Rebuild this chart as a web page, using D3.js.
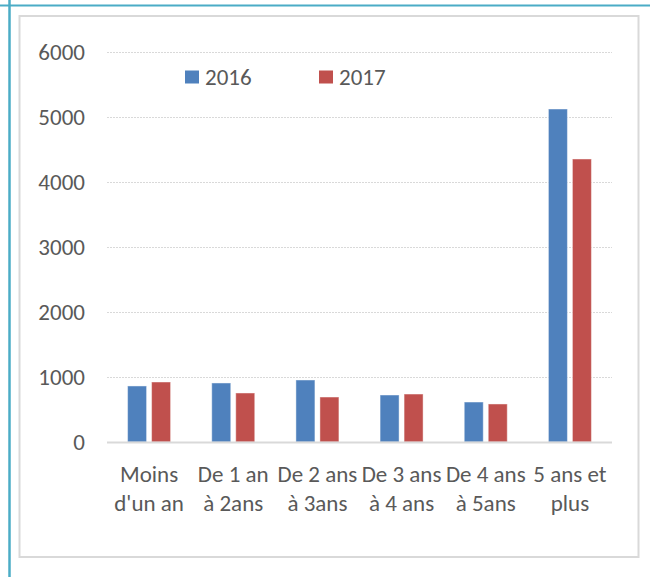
<!DOCTYPE html>
<html>
<head>
<meta charset="utf-8">
<script src="https://cdn.jsdelivr.net/npm/d3@7"></script>
<style>
  html, body { margin: 0; padding: 0; background: #ffffff; }
  svg { display: block; }
  text { font-family: Carlito, Lato, "Liberation Sans", sans-serif; fill: #595959; }
</style>
</head>
<body>
<svg id="chart" width="650" height="577"></svg>
<script>
// Categories (with the line breaks used under the axis)
const categories = [
  "Moins d'un an",
  "De 1 an à 2ans",
  "De 2 ans à 3ans",
  "De 3 ans à 4 ans",
  "De 4 ans à 5ans",
  "5 ans et plus"
];
const categoryLines = [
  ["Moins", "d'un an"],
  ["De 1 an", "à 2ans"],
  ["De 2 ans", "à 3ans"],
  ["De 3 ans", "à 4 ans"],
  ["De 4 ans", "à 5ans"],
  ["5 ans et", "plus"]
];
const seriesNames = ["2016", "2017"];
const values2016 = [862, 908, 954, 723, 615, 5123];
const values2017 = [923, 754, 692, 738, 585, 4354];
const yTicks = [0, 1000, 2000, 3000, 4000, 5000, 6000];
const colors = ["#4f81bd", "#c0504d"];

const FONT_SIZE = 23;
const svg = d3.select("#chart");

// Decorative page rules
svg.append("line").attr("x1", 0).attr("x2", 650).attr("y1", 5.5).attr("y2", 5.5)
  .attr("stroke", "#4bacc6").attr("stroke-width", 2);
svg.append("line").attr("x1", 9.5).attr("x2", 9.5).attr("y1", 0).attr("y2", 577)
  .attr("stroke", "#4bacc6").attr("stroke-width", 2.5);

// Chart frame
svg.append("rect").attr("x", 19.5).attr("y", 16).attr("width", 619).attr("height", 541)
  .attr("fill", "#ffffff").attr("stroke", "#d9d9d9").attr("stroke-width", 2);

const plot = { left: 107, right: 612, top: 52, bottom: 442 };

const y = d3.scaleLinear().domain([0, 6000]).range([plot.bottom, plot.top]);
const x0 = d3.scaleBand().domain(categories).range([plot.left, plot.right])
  .paddingInner(0.489).paddingOuter(0.2445);
const x1 = d3.scaleBand().domain(seriesNames).range([0, x0.bandwidth()])
  .paddingInner(0.208).paddingOuter(0);

// Gridlines
svg.append("g").selectAll("line").data(yTicks.filter(d => d > 0)).join("line")
  .attr("x1", plot.left).attr("x2", plot.right)
  .attr("y1", d => Math.round(y(d)) + 0.5).attr("y2", d => Math.round(y(d)) + 0.5)
  .attr("stroke", "#d9d9d9").attr("stroke-width", 1).attr("stroke-dasharray", "2,1");

// Y axis labels
const yAxis = d3.axisLeft(y).tickValues(yTicks).tickSize(0).tickPadding(0).tickFormat(d3.format("d"));
const yg = svg.append("g").attr("transform", `translate(85,0)`).call(yAxis);
yg.select(".domain").remove();
yg.selectAll("text").attr("font-size", FONT_SIZE).attr("fill", "#595959")
  .style("font-family", "Carlito, Lato, 'Liberation Sans', sans-serif");

// Bars
const rows = categories.map((c, i) => ({ cat: c, vals: [values2016[i], values2017[i]] }));
const groups = svg.append("g").selectAll("g").data(rows).join("g")
  .attr("transform", d => `translate(${x0(d.cat)},0)`);
groups.selectAll("rect").data(d => d.vals.map((v, k) => ({ key: seriesNames[k], v, k })))
  .join("rect")
  .attr("x", d => x1(d.key))
  .attr("y", d => y(d.v))
  .attr("width", x1.bandwidth())
  .attr("height", d => y(0) - y(d.v))
  .attr("fill", d => colors[d.k])
  .attr("stroke", "rgba(255,255,255,0.45)")
  .attr("stroke-width", 1);

// X axis line
svg.append("line").attr("x1", plot.left).attr("x2", plot.right)
  .attr("y1", plot.bottom + 0.5).attr("y2", plot.bottom + 0.5)
  .attr("stroke", "#d9d9d9").attr("stroke-width", 2);

// Category labels
const xg = svg.append("g");
categories.forEach((c, i) => {
  const cx = x0(c) + x0.bandwidth() / 2;
  const t = xg.append("text").attr("text-anchor", "middle").attr("font-size", FONT_SIZE);
  categoryLines[i].forEach((line, j) => {
    t.append("tspan").attr("x", cx).attr("y", 482 + j * 29).text(line);
  });
});

// Legend
const legendX = [185, 319];
seriesNames.forEach((s, k) => {
  svg.append("rect").attr("x", legendX[k]).attr("y", 70.5).attr("width", 14).attr("height", 13)
    .attr("fill", colors[k]);
  svg.append("text").attr("x", legendX[k] + 20).attr("y", 77).attr("dy", "0.35em")
    .attr("font-size", FONT_SIZE).text(s);
});
</script>
</body>
</html>
